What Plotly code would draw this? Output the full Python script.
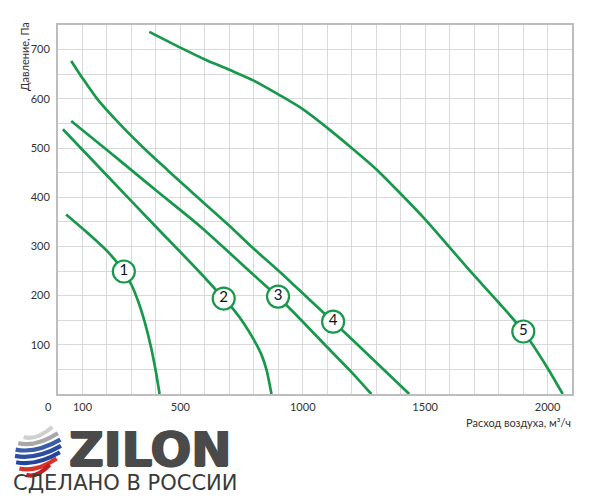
import plotly.graph_objects as go

# ---- data ----
flow_1 = [33, 122, 204, 269, 300, 330, 355, 380, 400, 415]
pres_1 = [365, 327, 289, 249, 222, 185, 145, 95, 45, 0]

flow_2 = [20, 200, 400, 580, 677, 720, 760, 797, 831, 852, 872]
pres_2 = [538, 444, 340, 247, 194, 170, 143, 113, 80, 49, 0]

flow_3 = [54, 200, 300, 400, 580, 716, 804, 899, 1000, 1100, 1200, 1280]
pres_3 = [555, 496, 455, 414, 341, 280, 240, 197, 147, 95, 44, 0]

flow_4 = [54, 100, 160, 250, 350, 450, 579, 700, 800, 900, 1029, 1124, 1250, 1435]
pres_4 = [677, 642, 600, 550, 500, 454, 396, 342, 295, 251, 191, 147, 88, 0]

flow_5 = [373, 500, 600, 700, 800, 900, 1000, 1100, 1200, 1300, 1400, 1500,
          1600, 1700, 1800, 1900, 2000, 2062]
pres_5 = [736, 704, 680, 659, 637, 609, 579, 541, 500, 457, 407, 355,
          298, 241, 186, 128, 53, 0]

label_text = ["1", "2", "3", "4", "5"]
label_flow = [269, 677, 899, 1124, 1901]
label_pres = [249, 194, 198, 147, 127]

x_tick_vals = list(range(0, 2101, 100))
x_tick_labels = {100: "100", 500: "500", 1000: "1000", 1500: "1500", 2000: "2000"}
y_tick_vals = list(range(0, 751, 50))
y_tick_labels = {100: "100", 200: "200", 300: "300", 400: "400", 500: "500", 600: "600", 700: "700"}

GREEN = "#17984a"
FONT = "Lato"

fig = go.Figure()
for fx, py in [(flow_1, pres_1), (flow_2, pres_2), (flow_3, pres_3), (flow_4, pres_4), (flow_5, pres_5)]:
    fig.add_trace(go.Scatter(x=fx, y=py, mode="lines",
                             line=dict(color=GREEN, width=2.7, shape="spline", smoothing=0.8),
                             hoverinfo="skip", showlegend=False))

fig.add_trace(go.Scatter(x=label_flow, y=label_pres, mode="markers+text", text=label_text,
                         textposition="middle center",
                         textfont=dict(family=FONT, size=15, color="#111"),
                         marker=dict(size=22, color="white", line=dict(color=GREEN, width=2.2)),
                         hoverinfo="skip", showlegend=False))

OFF = 8  # page body margin
W, H = 592, 492
L, R, T, B = 50, 28, 17, 106
PW, PH = W - L - R, H - T - B


def px2x(px):
    return (px - OFF - L) / PW


def py2y(py):
    return (H - B - (py - OFF)) / PH


fig.update_layout(
    width=W, height=H,
    margin=dict(l=L, r=R, t=T, b=B),
    paper_bgcolor="white", plot_bgcolor="white",
    font=dict(family=FONT, size=11, color="#333"),
    xaxis=dict(range=[0, 2100], tickmode="array", tickvals=x_tick_vals,
               ticktext=[x_tick_labels.get(v, "") for v in x_tick_vals],
               showgrid=True, gridcolor="#d9d9d9", gridwidth=1,
               showline=True, linecolor="#bdbdbd", linewidth=2, mirror=True,
               ticks="outside", ticklen=2, tickcolor="rgba(0,0,0,0)",
               zeroline=False, tickfont=dict(size=11, color="#333")),
    yaxis=dict(range=[0, 750], tickmode="array", tickvals=y_tick_vals,
               ticktext=[y_tick_labels.get(v, "") for v in y_tick_vals],
               showgrid=True, gridcolor="#d9d9d9", gridwidth=1,
               showline=True, linecolor="#bdbdbd", linewidth=2, mirror=True,
               ticks="outside", ticklen=4, tickcolor="rgba(0,0,0,0)",
               zeroline=False, tickfont=dict(size=11, color="#333")),
)

annotations = [
    dict(text="0", x=px2x(48), y=py2y(406), xref="paper", yref="paper",
         showarrow=False, font=dict(size=11, color="#333"), xanchor="center", yanchor="middle"),
    dict(text="Давление, Па", x=px2x(24), y=py2y(57), xref="paper", yref="paper",
         showarrow=False, textangle=-90, font=dict(size=11, color="#333"),
         xanchor="center", yanchor="middle"),
    dict(text="Расход воздуха, м³/ч", x=px2x(573), y=py2y(422), xref="paper", yref="paper",
         showarrow=False, font=dict(size=11, color="#333"), xanchor="right", yanchor="middle"),
    dict(text="<b>ZILON</b>", x=px2x(67), y=py2y(449), xref="paper", yref="paper",
         showarrow=False,
         font=dict(family="DejaVu Sans", size=48, color="#4a4a4a",
                   shadow="1px 0 0 #4a4a4a, -1px 0 0 #4a4a4a, 0 1px 0 #4a4a4a"),
         xanchor="left", yanchor="middle"),
    dict(text="СДЕЛАНО В РОССИИ", x=px2x(11), y=py2y(483), xref="paper", yref="paper",
         showarrow=False, font=dict(family="DejaVu Sans", size=21, color="#3a3a3a"),
         xanchor="left", yanchor="middle"),
]
fig.update_layout(annotations=annotations)

# ---- logo sphere (decoration) ----
cx, cy, r = 38, 451, 23
stripe_colors = ["#d0d0d0", "#a8a8a8", "#3b5ca9", "#2c4e9f", "#23469a", "#d8322c", "#c0201e"]
shapes = []
for i, col in enumerate(stripe_colors):
    yy = cy - r + 5 + i * 6.3
    dy = abs(yy - cy)
    half = (max(r * r - dy * dy, 20)) ** 0.5
    x0, y0 = cx - half, yy + 4
    x1, y1 = cx + half, yy - 6
    qx, qy = cx - 2, yy + 8
    path = "M {:.4f},{:.4f} Q {:.4f},{:.4f} {:.4f},{:.4f}".format(
        px2x(x0), py2y(y0), px2x(qx), py2y(qy), px2x(x1), py2y(y1))
    shapes.append(dict(type="path", path=path, xref="paper", yref="paper",
                       line=dict(color=col, width=4.2), fillcolor="rgba(0,0,0,0)"))
fig.update_layout(shapes=shapes)

fig.write_html("out.html")
